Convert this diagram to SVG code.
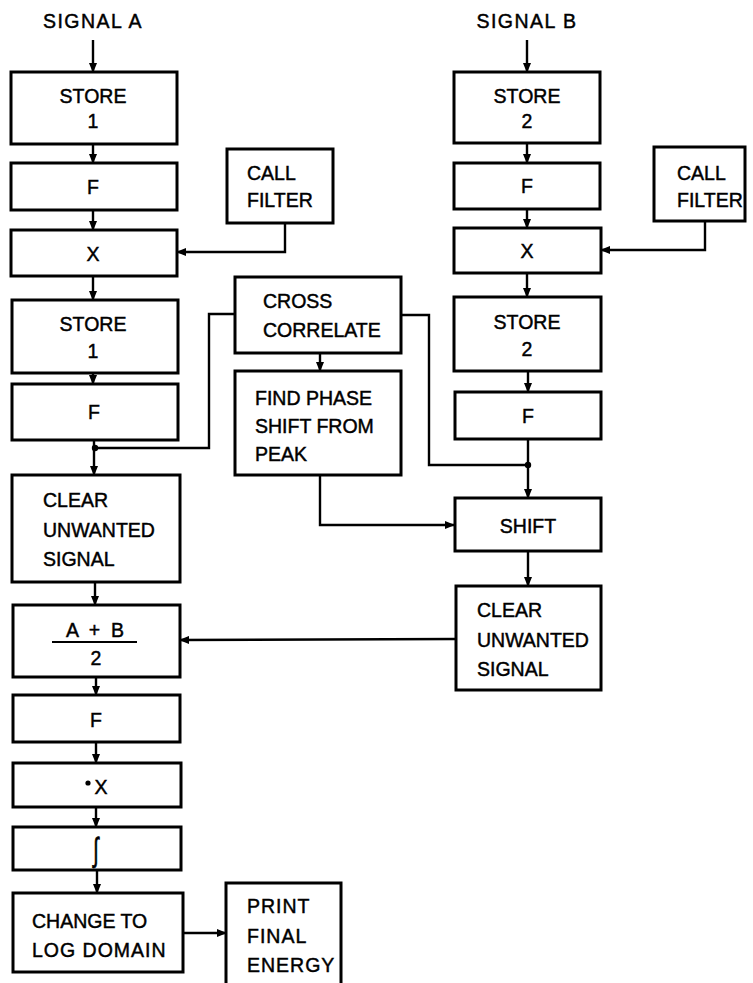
<svg xmlns="http://www.w3.org/2000/svg" width="753" height="983" viewBox="0 0 753 983">
<defs>
<marker id="ah" markerWidth="10" markerHeight="8" refX="9" refY="4" orient="auto" markerUnits="userSpaceOnUse">
<path d="M0,0 L10,4 L0,8 Z" fill="#000"/>
</marker>
<style>
.box{fill:#fff;stroke:#000;stroke-width:3}
.ln{fill:none;stroke:#000;stroke-width:2.4}
text{font-family:"Liberation Sans",Arial,sans-serif;font-size:19.5px;fill:#000;stroke:#000;stroke-width:0.45}
.c{text-anchor:middle}
</style>
</defs>
<rect width="753" height="983" fill="#fff"/>

<g id="labels">
<text x="93" y="28" class="c" letter-spacing="1.5">SIGNAL A</text>
<text x="527" y="28" class="c" letter-spacing="1.5">SIGNAL B</text>
</g>

<g id="connectors">
<line class="ln" x1="93" y1="40" x2="93" y2="72" marker-end="url(#ah)"/>
<line class="ln" x1="93" y1="144" x2="93" y2="163" marker-end="url(#ah)"/>
<line class="ln" x1="93" y1="210" x2="93" y2="230" marker-end="url(#ah)"/>
<line class="ln" x1="93" y1="276" x2="93" y2="300" marker-end="url(#ah)"/>
<line class="ln" x1="93" y1="373" x2="93" y2="384" marker-end="url(#ah)"/>
<line class="ln" x1="94" y1="440" x2="94" y2="475" marker-end="url(#ah)"/>
<line class="ln" x1="95" y1="582" x2="95" y2="605" marker-end="url(#ah)"/>
<line class="ln" x1="96" y1="677" x2="96" y2="695" marker-end="url(#ah)"/>
<line class="ln" x1="96" y1="742" x2="96" y2="763" marker-end="url(#ah)"/>
<line class="ln" x1="96" y1="807" x2="96" y2="827" marker-end="url(#ah)"/>
<line class="ln" x1="97" y1="870" x2="97" y2="893" marker-end="url(#ah)"/>
<line class="ln" x1="183" y1="933" x2="226" y2="933" marker-end="url(#ah)"/>
<polyline class="ln" points="285,223 285,252 177,252" marker-end="url(#ah)"/>
<polyline class="ln" points="235,314 209,314 209,448 95,448"/>
<circle cx="95" cy="448" r="3.2" fill="#000"/>
<line class="ln" x1="320" y1="353" x2="320" y2="371" marker-end="url(#ah)"/>
<polyline class="ln" points="401,315 429,315 429,465 528,465"/>
<polyline class="ln" points="320,475 320,525 454,525" marker-end="url(#ah)"/>

<line class="ln" x1="527" y1="40" x2="527" y2="72" marker-end="url(#ah)"/>
<line class="ln" x1="527" y1="143" x2="527" y2="163" marker-end="url(#ah)"/>
<line class="ln" x1="527" y1="209" x2="527" y2="228" marker-end="url(#ah)"/>
<line class="ln" x1="527" y1="273" x2="527" y2="297" marker-end="url(#ah)"/>
<line class="ln" x1="528" y1="371" x2="528" y2="392" marker-end="url(#ah)"/>
<line class="ln" x1="528" y1="439" x2="528" y2="498" marker-end="url(#ah)"/>
<circle cx="528" cy="465" r="3.2" fill="#000"/>
<line class="ln" x1="528" y1="551" x2="528" y2="586" marker-end="url(#ah)"/>
<polyline class="ln" points="705,221 705,250 601,250" marker-end="url(#ah)"/>
<line class="ln" x1="456" y1="639" x2="180" y2="640" marker-end="url(#ah)"/>
</g>

<g id="store1"><rect class="box" x="11" y="72" width="166" height="72"/><text x="93" y="103" class="c">STORE</text><text x="93" y="128" class="c">1</text></g>
<g id="fA1"><rect class="box" x="11" y="163" width="166" height="47"/><text x="93" y="194" class="c">F</text></g>
<g id="xA"><rect class="box" x="11" y="230" width="166" height="46"/><text x="93" y="261" class="c">X</text></g>
<g id="store1b"><rect class="box" x="12" y="300" width="166" height="73"/><text x="93" y="331" class="c">STORE</text><text x="93" y="358" class="c">1</text></g>
<g id="fA2"><rect class="box" x="12" y="384" width="166" height="56"/><text x="94" y="419" class="c">F</text></g>
<g id="clearA"><rect class="box" x="12" y="475" width="168" height="107"/><text x="43" y="507">CLEAR</text><text x="43" y="537">UNWANTED</text><text x="43" y="566">SIGNAL</text></g>
<g id="avg"><rect class="box" x="13" y="605" width="167" height="72"/><text x="95" y="637" class="c" xml:space="preserve">A  +  B</text><line x1="52" y1="642" x2="137" y2="642" stroke="#000" stroke-width="2.2"/><text x="96" y="665" class="c">2</text></g>
<g id="fA3"><rect class="box" x="13" y="695" width="167" height="47"/><text x="96" y="727" class="c">F</text></g>
<g id="dotx"><rect class="box" x="13" y="763" width="168" height="44"/><circle cx="88" cy="783" r="2.6" fill="#000"/><text x="101" y="794" class="c">X</text></g>
<g id="integ"><rect class="box" x="13" y="827" width="168" height="43"/><text x="0" y="0" class="c" font-size="30" transform="translate(96,861) scale(1,1.7)">∫</text></g>
<g id="logd"><rect class="box" x="13" y="893" width="170" height="79"/><text x="32" y="928">CHANGE TO</text><text x="32" y="957" letter-spacing="1">LOG DOMAIN</text></g>
<g id="print"><path class="box" d="M226,986 L226,883 L341,883 L341,986"/><text x="247" y="913" letter-spacing="1">PRINT</text><text x="247" y="943" letter-spacing="1">FINAL</text><text x="247" y="972" letter-spacing="1">ENERGY</text></g>

<g id="callA"><rect class="box" x="227" y="149" width="106" height="74"/><text x="247" y="180">CALL</text><text x="247" y="207">FILTER</text></g>
<g id="cross"><rect class="box" x="235" y="277" width="166" height="76"/><text x="263" y="308">CROSS</text><text x="263" y="337">CORRELATE</text></g>
<g id="phase"><rect class="box" x="235" y="371" width="166" height="104"/><text x="255" y="405">FIND PHASE</text><text x="255" y="433">SHIFT FROM</text><text x="255" y="461">PEAK</text></g>

<g id="store2"><rect class="box" x="454" y="72" width="146" height="71"/><text x="527" y="103" class="c">STORE</text><text x="527" y="128" class="c">2</text></g>
<g id="fB1"><rect class="box" x="454" y="163" width="146" height="46"/><text x="527" y="193" class="c">F</text></g>
<g id="xB"><rect class="box" x="454" y="228" width="147" height="45"/><text x="527" y="258" class="c">X</text></g>
<g id="store2b"><rect class="box" x="454" y="297" width="147" height="74"/><text x="527" y="329" class="c">STORE</text><text x="527" y="356" class="c">2</text></g>
<g id="fB2"><rect class="box" x="455" y="392" width="146" height="47"/><text x="528" y="423" class="c">F</text></g>
<g id="shift"><rect class="box" x="455" y="498" width="146" height="53"/><text x="528" y="533" class="c">SHIFT</text></g>
<g id="clearB"><rect class="box" x="456" y="586" width="145" height="104"/><text x="477" y="617">CLEAR</text><text x="477" y="647">UNWANTED</text><text x="477" y="676">SIGNAL</text></g>
<g id="callB"><rect class="box" x="654" y="147" width="91" height="74"/><text x="677" y="180">CALL</text><text x="677" y="207">FILTER</text></g>
</svg>
